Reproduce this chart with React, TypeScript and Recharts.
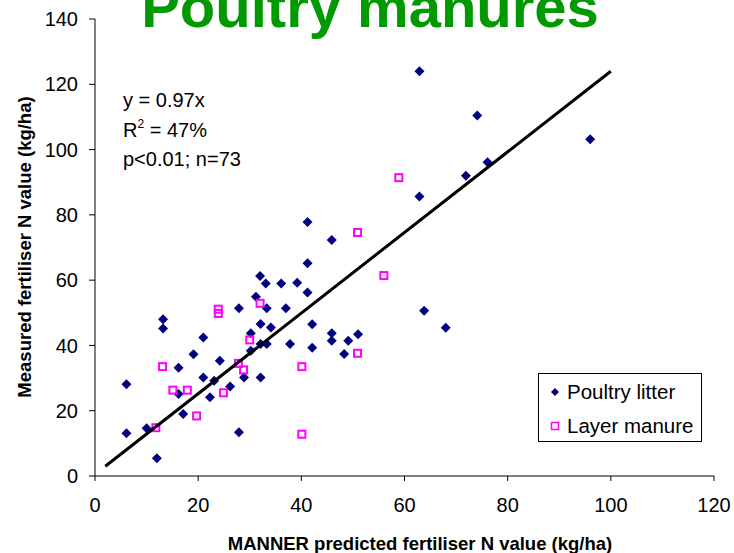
import React from "react";
import { ScatterChart, Scatter, XAxis, YAxis, Legend } from "recharts";

// Poultry litter (diamonds)
const litterX = [6.1, 6.1, 10.0, 12.0, 13.2, 13.2, 16.2, 16.2, 17.1, 19.1, 21.0, 21.0, 22.3, 23.1, 24.2, 26.2, 27.9, 27.9, 28.9, 30.2, 30.2, 31.2, 32.0, 33.1, 32.1, 32.1, 33.3, 32.1, 33.3, 34.1, 36.1, 37.0, 37.8, 39.2, 41.2, 41.2, 41.2, 42.1, 42.1, 45.9, 45.9, 45.9, 48.3, 49.1, 51.0, 62.9, 62.9, 63.8, 68.0, 71.9, 74.1, 76.1, 96.0];
const litterY = [28.1, 13.1, 14.6, 5.4, 48.0, 45.2, 33.2, 25.1, 19.0, 37.3, 42.4, 30.2, 24.1, 29.2, 35.3, 27.4, 51.4, 13.4, 30.2, 43.7, 38.4, 54.9, 61.3, 59.0, 46.6, 40.4, 40.4, 30.2, 51.4, 45.5, 59.0, 51.4, 40.4, 59.2, 77.8, 65.2, 56.2, 46.5, 39.3, 72.3, 43.7, 41.4, 37.4, 41.4, 43.4, 124.0, 85.6, 50.6, 45.4, 92.0, 110.4, 96.1, 103.2];

// Layer manure (open squares)
const layerX = [11.8, 13.1, 15.1, 17.9, 19.7, 23.9, 23.9, 24.9, 27.8, 28.8, 30.0, 32.0, 40.1, 40.1, 50.9, 50.9, 56.0, 58.9];
const layerY = [14.8, 33.5, 26.3, 26.3, 18.4, 51.1, 49.8, 25.5, 34.5, 32.5, 41.7, 52.9, 33.5, 12.8, 37.6, 74.6, 61.4, 91.4];

// trend line ends
const fitX = [2, 100];
const fitY = [3, 124];

const xTicks = [0, 20, 40, 60, 80, 100, 120];
const yTicks = [0, 20, 40, 60, 80, 100, 120, 140];

const NAVY = "#000080";
const MAGENTA = "#ff00ff";
const FONT = "'Liberation Sans', Arial, sans-serif";

const litter = litterX.map((x, i) => ({ x, y: litterY[i] }));
const layer = layerX.map((x, i) => ({ x, y: layerY[i] }));
const fit = fitX.map((x, i) => ({ x, y: fitY[i] }));

const Diamond = (p: any) => {
  const { cx, cy } = p;
  return <polygon points={`${cx},${cy - 5} ${cx + 5},${cy} ${cx},${cy + 5} ${cx - 5},${cy}`} fill={NAVY} />;
};

const Square = (p: any) => {
  const { cx, cy } = p;
  return <rect x={cx - 3.5} y={cy - 3.5} width={7} height={7} fill="none" stroke={MAGENTA} strokeWidth={2} />;
};

const LegendBox = () => (
  <svg width={162} height={67} style={{ display: "block" }}>
    <polygon points="16,14 20,18 16,22 12,18" fill={NAVY} />
    <text x={28} y={25} fontSize={20.5} fontFamily={FONT} fill="#000">Poultry litter</text>
    <rect x={12.5} y={48.5} width={7} height={7} fill="none" stroke={MAGENTA} strokeWidth={1.5} />
    <text x={28} y={59} fontSize={20.5} fontFamily={FONT} fill="#000">Layer manure</text>
  </svg>
);

const tickStyle = { fontSize: 20, fill: "#000", fontFamily: FONT };

export default function App() {
  return (
    <div style={{ position: "absolute", left: 0, top: 0, width: 734, height: 553, background: "#fff", overflow: "hidden" }}>
      <ScatterChart width={734} height={553} margin={{ top: 19, right: 20, left: 0, bottom: 0 }}>
        <XAxis
          type="number"
          dataKey="x"
          domain={[0, 120]}
          ticks={xTicks}
          height={77}
          tick={tickStyle}
          tickSize={5}
          tickMargin={17}
          stroke="#000"
          allowDataOverflow
        />
        <YAxis
          type="number"
          dataKey="y"
          domain={[0, 140]}
          ticks={yTicks}
          width={95}
          tick={tickStyle}
          tickSize={6}
          tickMargin={11}
          stroke="#000"
          allowDataOverflow
        />
        <Legend
          layout="vertical"
          align="center"
          verticalAlign="middle"
          content={() => <LegendBox />}
          wrapperStyle={{ left: 538, top: 373, width: 164, height: 69, border: "1px solid #000", boxSizing: "border-box", background: "#fff" }}
        />
        <Scatter name="Poultry litter" data={litter} shape={Diamond} isAnimationActive={false} />
        <Scatter name="Layer manure" data={layer} shape={Square} isAnimationActive={false} />
        <Scatter
          name="fit"
          data={fit}
          line={{ stroke: "#000", strokeWidth: 3 }}
          shape={() => <g />}
          legendType="none"
          isAnimationActive={false}
        />
      </ScatterChart>
      <svg width={734} height={553} style={{ position: "absolute", left: 0, top: 0, pointerEvents: "none" }}>
        <text x={370} y={27} textAnchor="middle" fontSize={58} fontWeight="bold" fontFamily={FONT} fill="#009a00">
          Poultry manures
        </text>
        <g fontSize={20} fontFamily={FONT} fill="#000">
          <text x={123} y={107}>y = 0.97x</text>
          <text x={123} y={137}>
            R<tspan dy={-9} fontSize={12}>2</tspan>
            <tspan dy={9}> = 47%</tspan>
          </text>
          <text x={123} y={166}>p&lt;0.01; n=73</text>
        </g>
        <text
          transform="translate(25,247) rotate(-90)"
          textAnchor="middle"
          dy="0.35em"
          fontSize={18.5}
          fontWeight="bold"
          fontFamily={FONT}
          fill="#000"
        >
          Measured fertiliser N value (kg/ha)
        </text>
        <text x={420} y={550} textAnchor="middle" fontSize={18.5} fontWeight="bold" fontFamily={FONT} fill="#000">
          MANNER predicted fertiliser N value (kg/ha)
        </text>
      </svg>
    </div>
  );
}
